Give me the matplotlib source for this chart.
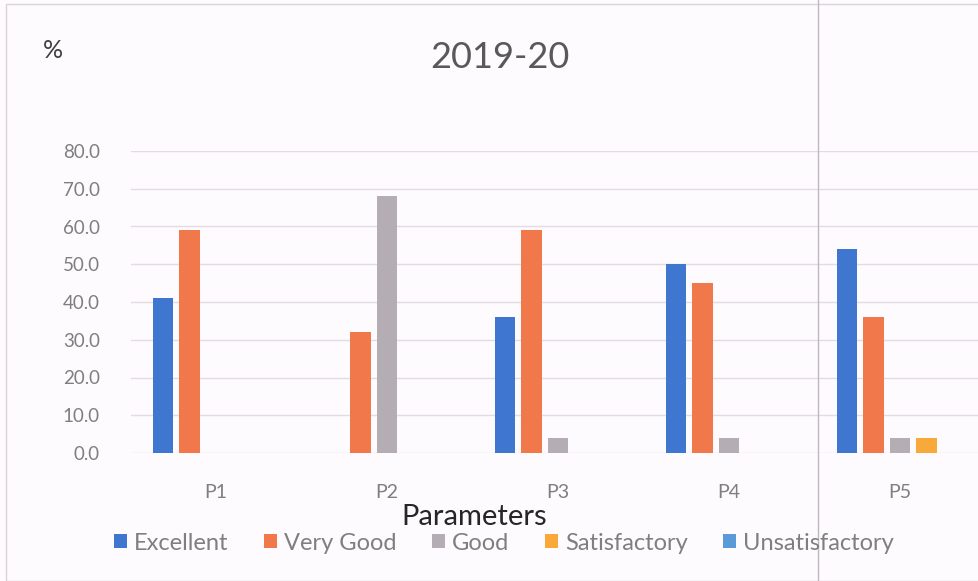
import matplotlib.pyplot as plt
import numpy as np
from matplotlib.patches import Rectangle

# donnees
categories = ["P1", "P2", "P3", "P4", "P5"]
series = ["Excellent", "Very Good", "Good", "Satisfactory", "Unsatisfactory"]
excellent = [41.0, 0.0, 36.0, 50.0, 54.0]
very_good = [59.0, 32.0, 59.0, 45.0, 36.0]
good = [0.0, 68.0, 4.0, 4.0, 4.0]
satisfactory = [0.0, 0.0, 0.0, 0.0, 4.0]
unsatisfactory = [0.0, 0.0, 0.0, 0.0, 0.0]
yticks = [0, 10, 20, 30, 40, 50, 60, 70, 80]

values = [excellent, very_good, good, satisfactory, unsatisfactory]
colors = ["#3F76CF", "#F0784A", "#B4ADB4", "#F8A93A", "#5A9AD8"]

plt.rcParams['font.family'] = ['Lato', 'DejaVu Sans']

fig = plt.figure(figsize=(9.79, 5.81), dpi=100)
fig.patch.set_facecolor("#FDFBFD")

W, H = 979, 581
left, right, top, bottom = 130.5, 130.5 + 5 * 171, 151, 453
ax = fig.add_axes([left / W, 1 - bottom / H, (right - left) / W, (bottom - top) / H])
ax.set_facecolor("none")

x = np.arange(len(categories))
step = 0.155
width = 0.122
for i, (name, vals) in enumerate(zip(series, values)):
    ax.bar(x + (i - 2) * step, vals, width, color=colors[i], label=name, zorder=3)

ax.set_xlim(-0.5, len(categories) - 0.5)
ax.set_ylim(0, 80)
ax.set_yticks(yticks)
ax.set_yticklabels([f"{v:.1f}" for v in yticks], fontsize=13.5, color="#7F7F7F")
ax.set_xticks(x)
ax.set_xticklabels(categories, fontsize=14, color="#7F7F7F")
ax.tick_params(length=0)
ax.tick_params(axis="y", pad=22)
ax.tick_params(axis="x", pad=22)
ax.grid(axis="y", color="#E4DAE6", linewidth=1, zorder=0)
for s in ax.spines.values():
    s.set_visible(False)

fig.text(53 / W, 1 - 50 / H, "%", fontsize=18, color="#404040", ha="center", va="center")
fig.text(500 / W, 1 - 58 / H, "2019-20", fontsize=26, color="#595959", ha="center", va="center")
fig.text(474 / W, 1 - 517 / H, "Parameters", fontsize=21, color="#262626", ha="center", va="center")

fig.legend(loc="center", bbox_to_anchor=(504 / W, 1 - 543 / H), ncol=5, frameon=False,
           fontsize=17, labelcolor="#7F7F7F", handlelength=0.55, handleheight=0.55,
           handletextpad=0.3, columnspacing=1.5)

# cadre et pli du scan
fig.patches.append(Rectangle((6 / W, 0), 1, 1 - 4 / H, transform=fig.transFigure,
                             fill=False, edgecolor="#D8D4D8", linewidth=1))
fig.add_artist(plt.Line2D([818 / W, 818 / W], [0, 1], transform=fig.transFigure,
                          color="#BDB8C4", linewidth=1))

fig.savefig("out.png", dpi=100, facecolor=fig.get_facecolor())
